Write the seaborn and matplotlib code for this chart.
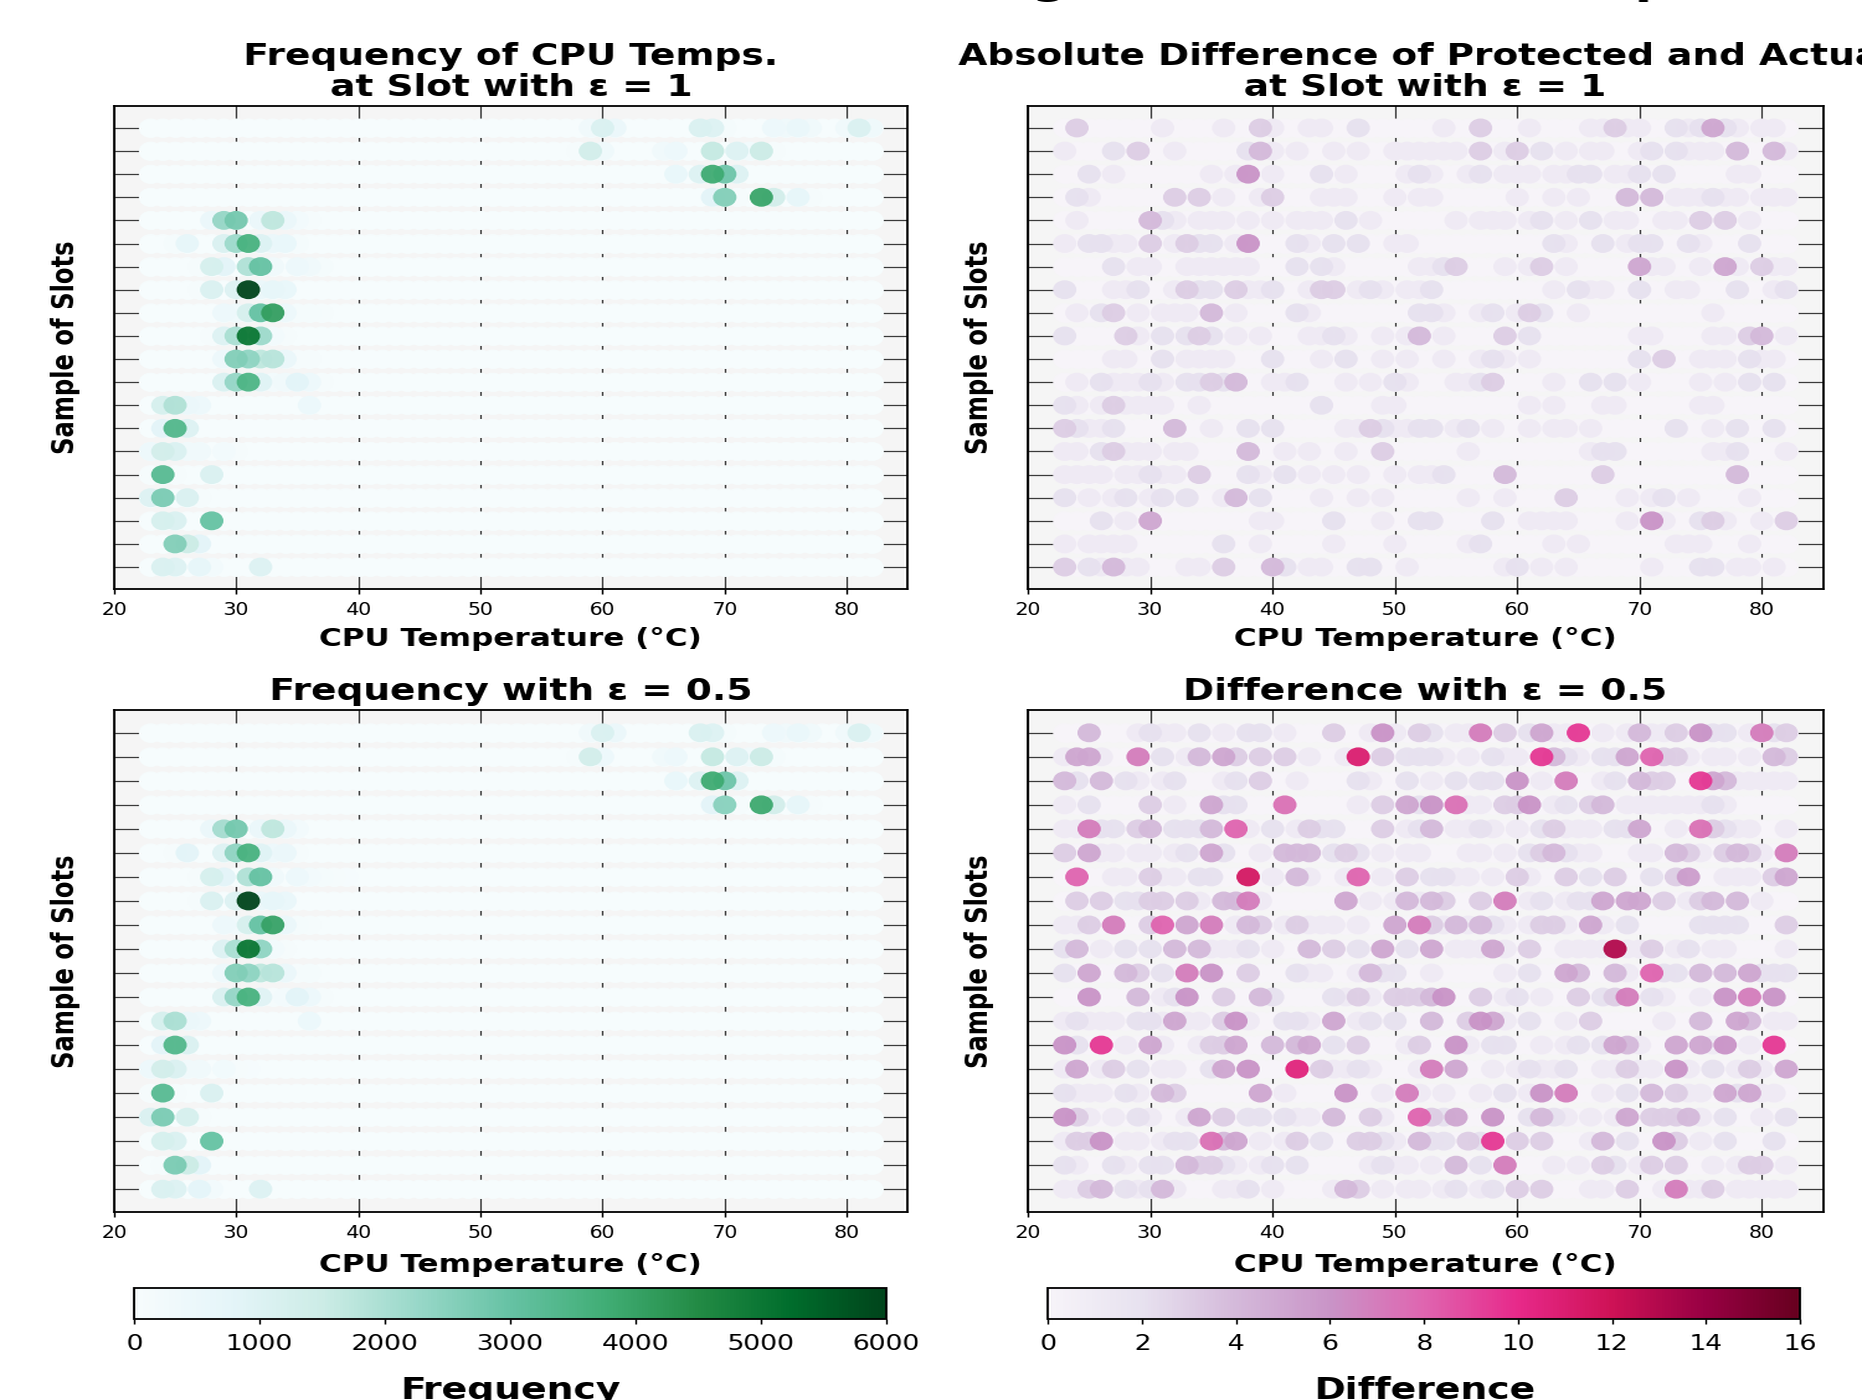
import io
import numpy as np
import pandas as pd
import matplotlib
matplotlib.use("Agg")
import matplotlib.pyplot as plt
import seaborn as sns
from matplotlib.cm import ScalarMappable
from matplotlib.colors import Normalize
from PIL import Image

TEMPS = list(range(23, 83))
ROWS = list(range(20))
FREQ_TICKS = [0, 1000, 2000, 3000, 4000, 5000, 6000]
DIFF_TICKS = [0, 2, 4, 6, 8, 10, 12, 14, 16]
X_TICKS = [20, 30, 40, 50, 60, 70, 80]
FREQ_FLOOR = 50

FREQ_EPS1 = [
    {59: 300, 60: 1100, 61: 500, 68: 1100, 69: 1000, 70: 150, 74: 400, 75: 350, 76: 550, 77: 300, 80: 300, 81: 1100, 82: 350},
    {58: 100, 59: 1300, 60: 350, 65: 300, 66: 400, 69: 1600, 71: 1000, 72: 250, 73: 1500, 74: 100},
    {66: 600, 68: 1000, 69: 3800, 70: 2900, 71: 1000, 72: 60},
    {69: 800, 70: 2600, 71: 100, 73: 3950, 74: 1300, 76: 700, 77: 100},
    {28: 500, 29: 2300, 30: 2800, 32: 500, 33: 1700, 34: 500, 35: 200, 36: 100},
    {25: 150, 26: 700, 29: 1100, 30: 2200, 31: 3600, 32: 1000, 33: 500, 34: 600, 35: 150},
    {27: 100, 28: 1200, 29: 800, 31: 1900, 32: 3000, 33: 300, 35: 400, 36: 300, 37: 150},
    {27: 100, 28: 1100, 30: 1000, 31: 6000, 32: 500, 33: 700, 34: 600},
    {29: 400, 30: 350, 31: 1200, 32: 3000, 33: 4100, 34: 400, 35: 150, 36: 150, 37: 100},
    {28: 100, 29: 1000, 30: 2000, 31: 5000, 32: 2200, 33: 200, 34: 100},
    {29: 400, 30: 2600, 31: 2400, 32: 1700, 33: 1800, 34: 500, 35: 100, 36: 100},
    {29: 1100, 30: 2300, 31: 3500, 32: 900, 33: 200, 34: 300, 35: 800, 36: 400, 37: 100},
    {24: 1200, 25: 1900, 26: 500, 27: 400, 36: 450},
    {24: 800, 25: 3400, 26: 1000},
    {23: 400, 24: 1300, 25: 1100, 26: 300, 27: 300, 29: 200, 30: 100},
    {23: 100, 24: 3300, 25: 100, 28: 1100},
    {23: 1000, 24: 2700, 26: 1100, 27: 100},
    {24: 1200, 25: 1100, 28: 3000},
    {25: 2600, 26: 1500, 27: 800},
    {24: 1100, 25: 1000, 27: 700, 28: 200, 32: 1000},
]

FREQ_EPS05 = [
    {59: 300, 60: 1100, 61: 500, 68: 1100, 69: 1000, 70: 150, 74: 400, 75: 300, 76: 550, 77: 300, 80: 300, 81: 1100, 82: 350},
    {58: 100, 59: 1300, 60: 400, 65: 300, 66: 400, 69: 1600, 71: 1000, 72: 300, 73: 1500, 74: 150},
    {66: 600, 68: 1000, 69: 3800, 70: 2900, 71: 1000, 72: 60},
    {69: 800, 70: 2500, 71: 100, 73: 3850, 74: 1300, 76: 700, 77: 100},
    {28: 500, 29: 2100, 30: 2800, 32: 500, 33: 1700, 34: 500, 35: 200},
    {25: 100, 26: 800, 29: 1000, 30: 2400, 31: 3600, 32: 900, 33: 400, 34: 500, 35: 100},
    {27: 100, 28: 1200, 29: 800, 31: 1900, 32: 3000, 33: 300, 35: 400, 36: 200, 37: 150, 38: 100, 39: 80},
    {27: 100, 28: 1100, 30: 1000, 31: 6000, 32: 500, 33: 700, 34: 550},
    {29: 400, 30: 300, 31: 1200, 32: 3000, 33: 4000, 34: 500, 35: 150, 36: 100},
    {29: 1000, 30: 2000, 31: 5000, 32: 2400, 33: 200, 34: 100},
    {29: 400, 30: 2600, 31: 2400, 32: 1700, 33: 1800, 34: 500, 35: 100, 36: 120},
    {29: 1100, 30: 2300, 31: 3600, 32: 900, 33: 150, 34: 200, 35: 800, 36: 400, 37: 100},
    {24: 1200, 25: 2000, 26: 500, 27: 400, 36: 450},
    {24: 800, 25: 3400, 26: 1100},
    {23: 400, 24: 1300, 25: 1100, 26: 300, 27: 300, 29: 250, 30: 100, 31: 80},
    {23: 100, 24: 3300, 25: 100, 28: 1100},
    {23: 1100, 24: 2700, 26: 1200, 27: 100},
    {24: 1200, 25: 1100, 28: 3000},
    {24: 100, 25: 2700, 26: 1500, 27: 800},
    {24: 1100, 25: 1000, 27: 750, 28: 200, 32: 1000},
]

DIFF_EPS1 = [
    {24: 3, 31: 1, 36: 1, 39: 3, 40: 1, 43: 1, 44: 1, 47: 2, 54: 1, 57: 3, 61: 1, 66: 1, 67: 1, 68: 3, 69: 1, 70: 1, 73: 2, 74: 1, 75: 2, 76: 5, 77: 2, 78: 1, 80: 1, 81: 1},
    {23: 1, 27: 2, 29: 3, 32: 1, 38: 2, 39: 4, 40: 1, 42: 1, 45: 1, 47: 1, 50: 1, 51: 1, 52: 1, 53: 1, 54: 1, 55: 1, 57: 3, 59: 1, 60: 3, 62: 2, 64: 1, 66: 1, 67: 1, 70: 1, 71: 2, 73: 2, 74: 1, 75: 1, 76: 1, 78: 4, 81: 4, 82: 1},
    {25: 2, 27: 1, 35: 1, 37: 1, 38: 6, 40: 1, 44: 2, 46: 1, 51: 1, 52: 2, 53: 1, 56: 1, 57: 2, 59: 1, 60: 1, 61: 1, 63: 1, 64: 1, 65: 2, 66: 2, 68: 1, 69: 1, 70: 2, 72: 2, 78: 1, 79: 1},
    {24: 2, 25: 1, 32: 3, 34: 3, 36: 1, 39: 1, 40: 3, 44: 1, 45: 1, 46: 1, 50: 1, 52: 1, 53: 1, 60: 1, 63: 1, 65: 1, 69: 4, 71: 4, 73: 1, 74: 1, 75: 1, 76: 2, 77: 1, 78: 1, 80: 1, 81: 1, 82: 1},
    {24: 1, 30: 4, 31: 2, 32: 1, 34: 1, 35: 1, 36: 1, 38: 1, 40: 1, 42: 1, 43: 1, 44: 1, 46: 2, 48: 1, 55: 1, 57: 1, 58: 1, 59: 1, 61: 1, 62: 2, 64: 1, 66: 2, 68: 1, 69: 1, 72: 1, 73: 1, 75: 3, 77: 3, 79: 1},
    {23: 1, 25: 2, 26: 2, 27: 1, 28: 1, 30: 3, 32: 1, 33: 3, 34: 2, 35: 2, 37: 1, 38: 6, 42: 2, 43: 1, 45: 2, 47: 2, 50: 1, 51: 1, 63: 2, 64: 1, 67: 2, 69: 1, 70: 2, 71: 2, 74: 2, 75: 1, 79: 2},
    {27: 2, 29: 1, 30: 1, 33: 1, 34: 1, 35: 1, 36: 1, 37: 1, 38: 1, 42: 2, 44: 2, 45: 1, 52: 1, 53: 1, 54: 2, 55: 3, 59: 1, 61: 1, 62: 3, 64: 1, 70: 5, 71: 1, 72: 1, 75: 1, 77: 5, 78: 1, 80: 3, 81: 1, 82: 1},
    {23: 2, 27: 1, 28: 1, 29: 2, 32: 1, 33: 3, 34: 2, 35: 2, 37: 3, 38: 1, 39: 1, 40: 2, 43: 1, 44: 3, 45: 3, 47: 1, 48: 2, 49: 1, 51: 1, 52: 1, 53: 2, 63: 1, 65: 2, 66: 1, 67: 1, 70: 2, 73: 1, 74: 1, 78: 2, 81: 1, 82: 2},
    {24: 1, 26: 2, 27: 3, 29: 1, 31: 1, 32: 1, 33: 1, 35: 4, 37: 1, 42: 2, 43: 1, 52: 2, 53: 2, 54: 1, 57: 1, 58: 2, 60: 1, 61: 3, 62: 2, 65: 1, 76: 1},
    {23: 2, 28: 3, 29: 1, 31: 2, 33: 2, 34: 3, 35: 2, 37: 1, 39: 1, 43: 1, 44: 1, 45: 2, 46: 1, 49: 1, 51: 1, 52: 4, 54: 1, 59: 3, 61: 2, 70: 1, 71: 1, 76: 1, 77: 1, 79: 3, 80: 4, 82: 1},
    {27: 1, 28: 1, 31: 2, 33: 1, 34: 1, 35: 1, 36: 1, 40: 2, 44: 1, 46: 2, 49: 1, 51: 1, 54: 1, 57: 1, 58: 2, 59: 1, 61: 1, 70: 2, 72: 3, 75: 1, 76: 1, 77: 1, 79: 2, 80: 1, 81: 1},
    {24: 1, 26: 2, 27: 1, 28: 1, 29: 1, 30: 2, 31: 1, 33: 2, 34: 2, 35: 3, 36: 2, 37: 4, 40: 1, 41: 1, 42: 2, 46: 1, 48: 1, 50: 2, 51: 1, 55: 1, 56: 1, 57: 2, 58: 3, 63: 1, 66: 2, 68: 2, 70: 1, 75: 1, 77: 1, 79: 2, 81: 2},
    {23: 2, 24: 1, 26: 1, 27: 3, 28: 1, 29: 1, 30: 1, 31: 1, 34: 1, 44: 2, 49: 1, 50: 1, 61: 1, 63: 1, 67: 1, 68: 1, 75: 1, 76: 1},
    {23: 3, 24: 2, 25: 1, 26: 1, 27: 2, 32: 4, 35: 1, 38: 2, 40: 2, 46: 1, 47: 1, 48: 3, 49: 2, 50: 1, 51: 1, 52: 2, 53: 2, 55: 1, 56: 2, 58: 1, 61: 1, 63: 1, 64: 1, 66: 1, 73: 2, 76: 1, 78: 2, 81: 2},
    {23: 1, 24: 1, 26: 2, 27: 3, 28: 1, 29: 1, 30: 1, 32: 1, 33: 1, 38: 4, 41: 1, 43: 1, 46: 1, 49: 3, 56: 1, 66: 1, 67: 2, 68: 2, 76: 1, 77: 1, 78: 2, 82: 1},
    {23: 1, 24: 1, 25: 1, 26: 1, 28: 1, 29: 1, 30: 2, 31: 1, 32: 1, 34: 3, 38: 2, 39: 1, 41: 2, 43: 1, 45: 1, 47: 1, 50: 1, 52: 1, 53: 1, 54: 2, 59: 4, 67: 3, 78: 4},
    {23: 2, 25: 1, 27: 1, 28: 2, 30: 1, 31: 2, 33: 2, 36: 1, 37: 4, 39: 2, 44: 1, 47: 1, 49: 1, 56: 1, 59: 1, 64: 3, 69: 1, 71: 1, 72: 2, 74: 1, 79: 1},
    {26: 2, 28: 1, 30: 5, 39: 1, 40: 1, 45: 2, 49: 1, 52: 2, 53: 2, 58: 2, 61: 1, 62: 1, 63: 1, 64: 1, 69: 1, 71: 6, 72: 1, 75: 2, 76: 3, 77: 1, 80: 1, 82: 3},
    {23: 1, 25: 1, 26: 1, 27: 1, 28: 1, 36: 2, 39: 1, 45: 1, 50: 1, 56: 1, 57: 2, 63: 1, 65: 1, 73: 1, 74: 1, 75: 1, 79: 1},
    {23: 3, 25: 2, 26: 1, 27: 4, 28: 1, 29: 1, 33: 1, 34: 1, 36: 3, 40: 4, 41: 2, 43: 1, 44: 1, 47: 2, 48: 2, 51: 1, 59: 1, 60: 2, 62: 1, 64: 1, 71: 1, 75: 2, 76: 2, 78: 1, 79: 1, 81: 1},
]

DIFF_EPS05 = [
    {25: 4, 29: 1, 30: 2, 31: 1, 32: 1, 34: 2, 36: 1, 38: 2, 39: 2, 41: 1, 45: 3, 48: 1, 49: 6, 50: 1, 52: 3, 53: 2, 55: 1, 56: 1, 57: 7, 59: 3, 61: 2, 62: 5, 63: 1, 64: 1, 65: 9.5, 67: 1, 69: 1, 70: 4, 71: 1, 72: 1, 73: 3, 75: 6, 76: 2, 77: 2, 79: 1, 80: 7, 81: 2, 82: 3},
    {23: 1, 24: 5, 25: 5, 26: 1, 29: 7, 31: 2, 33: 1, 34: 4, 36: 5, 37: 3, 39: 3, 41: 3, 43: 1, 46: 1, 47: 11, 49: 3, 51: 2, 52: 2, 53: 2, 54: 1, 56: 1, 58: 2, 59: 1, 60: 1, 62: 9.5, 63: 4, 64: 2, 65: 1, 67: 2, 68: 2, 69: 5, 71: 8, 72: 3, 73: 3, 74: 1, 76: 1, 77: 1, 79: 1, 81: 4, 82: 3},
    {23: 4, 24: 2, 26: 4, 28: 2, 29: 1, 31: 1, 32: 2, 36: 1, 37: 2, 39: 3, 42: 1, 47: 2, 48: 1, 51: 2, 53: 1, 55: 2, 57: 2, 58: 2, 60: 6, 62: 1, 64: 7, 67: 1, 68: 2, 70: 4, 71: 3, 72: 3, 75: 9.5, 76: 5, 77: 4, 78: 1, 79: 1, 80: 1, 81: 1, 82: 1},
    {23: 1, 25: 2, 30: 3, 32: 1, 35: 5, 36: 2, 37: 2, 41: 7.5, 47: 1, 49: 3, 51: 5, 52: 2, 53: 6, 55: 7.5, 56: 1, 57: 1, 59: 3, 60: 3, 61: 6, 63: 1, 64: 2, 66: 3, 67: 4, 69: 1, 70: 1, 71: 1, 72: 1, 73: 1, 74: 1, 75: 1, 76: 2, 77: 1},
    {23: 1, 24: 1, 25: 7, 26: 2, 27: 2, 29: 3, 30: 4, 32: 2, 33: 2, 34: 2, 35: 4, 37: 8, 38: 1, 40: 2, 42: 1, 43: 3, 44: 2, 45: 2, 49: 3, 51: 1, 52: 2, 53: 4, 55: 1, 56: 1, 57: 2, 58: 1, 60: 1, 62: 2, 63: 3, 64: 1, 65: 1, 66: 1, 68: 2, 69: 2, 70: 5, 73: 1, 75: 7.5, 76: 3, 77: 2, 78: 1, 79: 1, 82: 1},
    {23: 3, 25: 5, 26: 1, 27: 1, 29: 1, 30: 1, 32: 1, 33: 2, 35: 5, 36: 2, 39: 1, 41: 4, 42: 4, 43: 4, 45: 2, 46: 3, 47: 2, 49: 1, 51: 1, 52: 1, 56: 1, 57: 1, 59: 1, 61: 2, 62: 3, 63: 4, 64: 2, 65: 1, 66: 1, 70: 1, 71: 1, 73: 4, 74: 3, 75: 1, 77: 3, 78: 4, 79: 3, 80: 1, 82: 7},
    {24: 8, 27: 1, 28: 1, 30: 3, 31: 1, 32: 1, 34: 2, 35: 2, 38: 11.5, 40: 1, 42: 4, 43: 1, 46: 1, 47: 8, 49: 1, 51: 3, 53: 2, 54: 2, 55: 1, 56: 1, 58: 1, 60: 3, 61: 1, 64: 3, 66: 2, 68: 3, 71: 2, 73: 3, 74: 5.5, 77: 1, 78: 1, 79: 1, 81: 3, 82: 5},
    {24: 3, 26: 3, 28: 2, 29: 2, 30: 3, 31: 3, 33: 3, 34: 1, 36: 4, 37: 4, 38: 7, 39: 1, 46: 5, 48: 1, 50: 1, 51: 4, 52: 1, 53: 4, 54: 3, 57: 3, 59: 7, 61: 1, 62: 2, 64: 1, 65: 2, 66: 2, 67: 5, 69: 5, 70: 5, 72: 3, 74: 1, 75: 3, 76: 4, 78: 4, 80: 1},
    {23: 1, 24: 1, 25: 3, 27: 7, 30: 3, 31: 8, 33: 5, 35: 7, 37: 1, 38: 4, 39: 3, 41: 1, 42: 3, 43: 1, 44: 1, 45: 1, 47: 1, 50: 5, 52: 7, 53: 3, 54: 1, 55: 4, 56: 1, 57: 4, 58: 2, 59: 1, 61: 1, 62: 3, 63: 3, 64: 1, 66: 5, 67: 1, 69: 2, 75: 2, 76: 2, 77: 2, 78: 2, 82: 3},
    {23: 2, 24: 4, 26: 1, 28: 2, 30: 2, 32: 4, 34: 4, 35: 1, 36: 1, 37: 1, 38: 2, 40: 1, 43: 4, 45: 3, 47: 2, 49: 5, 51: 2, 53: 5, 55: 1, 56: 1, 57: 1, 58: 5, 59: 1, 61: 3, 64: 1, 65: 1, 66: 1, 67: 1, 68: 13, 69: 1, 70: 1, 71: 3, 73: 1, 74: 2, 76: 1, 77: 1, 82: 1},
    {23: 2, 25: 5, 28: 4, 29: 3, 31: 2, 33: 7, 35: 6, 38: 3, 42: 2, 43: 1, 44: 1, 47: 1, 48: 4, 49: 2, 50: 2, 53: 1, 59: 1, 61: 2, 64: 5, 65: 4, 68: 4, 69: 1, 71: 8, 72: 2, 73: 2, 75: 4, 77: 4, 79: 5, 80: 2, 81: 2, 82: 2},
    {25: 6, 29: 4, 31: 1, 32: 2, 33: 6, 36: 3, 39: 4, 40: 2, 45: 2, 46: 1, 47: 3, 48: 1, 50: 3, 51: 3, 52: 3, 53: 4, 54: 6, 57: 3, 59: 1, 60: 2, 62: 1, 65: 3, 67: 2, 68: 3, 69: 7, 71: 2, 72: 1, 75: 1, 77: 6, 79: 7, 81: 6},
    {23: 1, 24: 2, 25: 1, 26: 1, 27: 1, 29: 2, 30: 2, 31: 1, 32: 5, 33: 1, 34: 1, 36: 3, 37: 6, 38: 1, 41: 2, 42: 2, 43: 1, 45: 5, 47: 1, 48: 2, 50: 2, 53: 4, 56: 3, 57: 6, 58: 5, 59: 1, 61: 2, 64: 1, 66: 3, 72: 1, 75: 4, 78: 5, 79: 4, 81: 1, 82: 1},
    {23: 6, 24: 2, 26: 9.5, 28: 1, 30: 5, 31: 1, 34: 1, 35: 3, 36: 3, 37: 5, 40: 4, 42: 4, 43: 5, 45: 2, 47: 3, 51: 1, 52: 3, 55: 6, 56: 1, 58: 2, 59: 2, 62: 1, 64: 1, 65: 2, 67: 2, 68: 5, 69: 4, 70: 1, 73: 5, 75: 5, 76: 1, 77: 6, 79: 1, 81: 9.5},
    {23: 1, 24: 5, 26: 1, 27: 3, 29: 2, 31: 1, 32: 1, 35: 2, 36: 5, 38: 6, 42: 10.5, 44: 3, 45: 1, 46: 1, 47: 2, 48: 1, 52: 1, 53: 7, 55: 5, 58: 1, 60: 1, 61: 2, 62: 1, 63: 1, 64: 2, 67: 1, 68: 1, 69: 3, 70: 1, 71: 1, 73: 6, 74: 1, 76: 2, 78: 1, 79: 3, 80: 1, 82: 5},
    {23: 2, 24: 1, 25: 1, 26: 1, 28: 2, 29: 1, 31: 4, 32: 3, 39: 5, 41: 1, 46: 6, 49: 1, 51: 7, 52: 1, 54: 1, 57: 1, 59: 2, 61: 1, 62: 6, 64: 7, 67: 1, 69: 2, 71: 4, 73: 3, 74: 1, 75: 1, 77: 5, 78: 2, 79: 5, 80: 1, 81: 1},
    {23: 6, 24: 3, 25: 1, 27: 1, 29: 2, 30: 1, 33: 1, 34: 5, 36: 3, 38: 2, 39: 2, 41: 2, 42: 1, 43: 1, 45: 4, 48: 3, 49: 1, 52: 8, 53: 3, 54: 2, 55: 5, 58: 6, 61: 2, 62: 4, 63: 2, 64: 1, 66: 1, 68: 1, 69: 5, 71: 3, 72: 3, 73: 3, 74: 4, 75: 1, 77: 2, 80: 1, 82: 2},
    {23: 1, 24: 3, 25: 3, 26: 6, 28: 1, 29: 1, 31: 1, 32: 2, 33: 2, 35: 7.5, 36: 4, 37: 5, 39: 1, 41: 1, 42: 3, 44: 2, 47: 3, 48: 3, 49: 2, 50: 1, 52: 4, 53: 2, 54: 2, 56: 3, 57: 2, 58: 9.5, 60: 3, 62: 3, 66: 1, 67: 4, 69: 2, 72: 6, 73: 3, 75: 1, 77: 2, 81: 2},
    {23: 2, 24: 1, 27: 2, 28: 1, 30: 2, 31: 2, 33: 4, 34: 3, 35: 3, 36: 2, 37: 1, 39: 1, 40: 2, 42: 2, 48: 1, 49: 2, 50: 1, 51: 1, 53: 1, 55: 4, 57: 2, 59: 7, 63: 1, 65: 1, 67: 3, 68: 2, 70: 1, 71: 3, 73: 3, 76: 1, 78: 1, 79: 3, 80: 3, 82: 1},
    {23: 1, 24: 1, 25: 3, 26: 4, 28: 2, 29: 1, 30: 2, 31: 4, 32: 1, 36: 1, 37: 1, 38: 2, 40: 1, 45: 1, 46: 4, 47: 3, 49: 1, 51: 1, 52: 1, 54: 1, 55: 2, 57: 1, 58: 2, 60: 3, 62: 3, 66: 1, 67: 1, 69: 3, 72: 1, 73: 7, 74: 1, 75: 1, 76: 3, 78: 1, 79: 1, 80: 1, 81: 1, 82: 1},
]

FULL_W, FULL_H = 1862, 1400
BASE_W = 1500          # drawn narrower, then widened to the full width
sns.set_theme(style="ticks")
plt.rcParams["font.family"] = ["DejaVu Sans"]
plt.rcParams.update({"text.color": "black", "axes.labelcolor": "black",
                     "xtick.color": "black", "ytick.color": "black"})

fig = plt.figure(figsize=(BASE_W / 100, FULL_H / 100), dpi=100, facecolor="white")


def box(left, top, right, bottom):
    return [left / FULL_W, 1 - bottom / FULL_H, (right - left) / FULL_W, (bottom - top) / FULL_H]


def tidy(rows, floor):
    frame = pd.DataFrame(
        [(t, r, float(rows[r].get(t, floor))) for r in ROWS for t in TEMPS],
        columns=["temp", "row", "value"],
    )
    return frame.sort_values("value", kind="stable")


def panel(rect, rows, floor, palette, vmax, title, xpad):
    ax = fig.add_axes(box(*rect))
    ax.set_facecolor("whitesmoke")
    ax.grid(True, color="#3a3a3a", linewidth=0.9)
    ax.set_axisbelow(True)
    data = tidy(rows, floor)
    base = plt.get_cmap(palette)(floor / vmax)
    sns.scatterplot(data=data, x="temp", y="row", color=base, s=185, linewidth=0, alpha=1,
                    legend=False, ax=ax, zorder=2)
    sns.scatterplot(data=data, x="temp", y="row", hue="value", palette=palette, hue_norm=(0, vmax),
                    s=185, linewidth=0, alpha=0.95, legend=False, ax=ax, zorder=3)
    ax.set_xlim(20, 85)
    ax.set_ylim(19.95, -0.95)
    ax.set_xticks(X_TICKS)
    ax.set_yticks(ROWS)
    ax.set_yticklabels([])
    ax.tick_params(axis="x", labelsize=12, length=3.5, width=1, color="black", pad=5)
    ax.tick_params(axis="y", length=0)
    ax.set_xlabel("CPU Temperature (°C)", fontsize=18, fontweight="bold", labelpad=xpad)
    ax.set_ylabel("Sample of Slots", fontsize=17.5, fontweight="bold", labelpad=16)
    ax.set_title(title, fontsize=21.8, fontweight="bold", pad=7, linespacing=1.115)
    for s in ax.spines.values():
        s.set_color("black")
        s.set_linewidth(1.3)
    return ax


panel((114, 106, 908, 589), FREQ_EPS1, FREQ_FLOOR, "BuGn", 6000, "Frequency of CPU Temps.\nat Slot with ε = 1", 6)
panel((1028, 106, 1823, 589), DIFF_EPS1, 0, "PuRd", 16, "Absolute Difference of Protected and Actual\nat Slot with ε = 1", 6)
panel((114, 710, 908, 1212), FREQ_EPS05, FREQ_FLOOR, "BuGn", 6000, "Frequency with ε = 0.5", 8)
panel((1028, 710, 1823, 1212), DIFF_EPS05, 0, "PuRd", 16, "Difference with ε = 0.5", 8)


def colorbar(rect, palette, vmax, ticks, label):
    cax = fig.add_axes(box(*rect))
    cb = fig.colorbar(ScalarMappable(Normalize(0, vmax), plt.get_cmap(palette)), cax=cax, orientation="horizontal")
    cb.set_ticks(ticks)
    cb.ax.tick_params(labelsize=15.5, length=3.5, width=1, pad=7, color="black")
    cb.set_label(label, fontsize=22, fontweight="bold", labelpad=16)
    cb.outline.set_linewidth(1.3)
    cb.outline.set_edgecolor("black")


colorbar((134, 1288, 886, 1319), "BuGn", 6000, FREQ_TICKS, "Frequency")
colorbar((1048, 1288, 1800, 1319), "PuRd", 16, DIFF_TICKS, "Difference")

fig.text(0.5, 1 + 6.7 / FULL_H, "Noise Effects at the Slots Using Protected CPU Temps",
         ha="center", va="baseline", fontsize=29.5, fontweight="bold")

buf = io.BytesIO()
fig.savefig(buf, format="png", dpi=100)
buf.seek(0)
Image.open(buf).convert("RGB").resize((FULL_W, FULL_H), Image.LANCZOS).save("out.png")
